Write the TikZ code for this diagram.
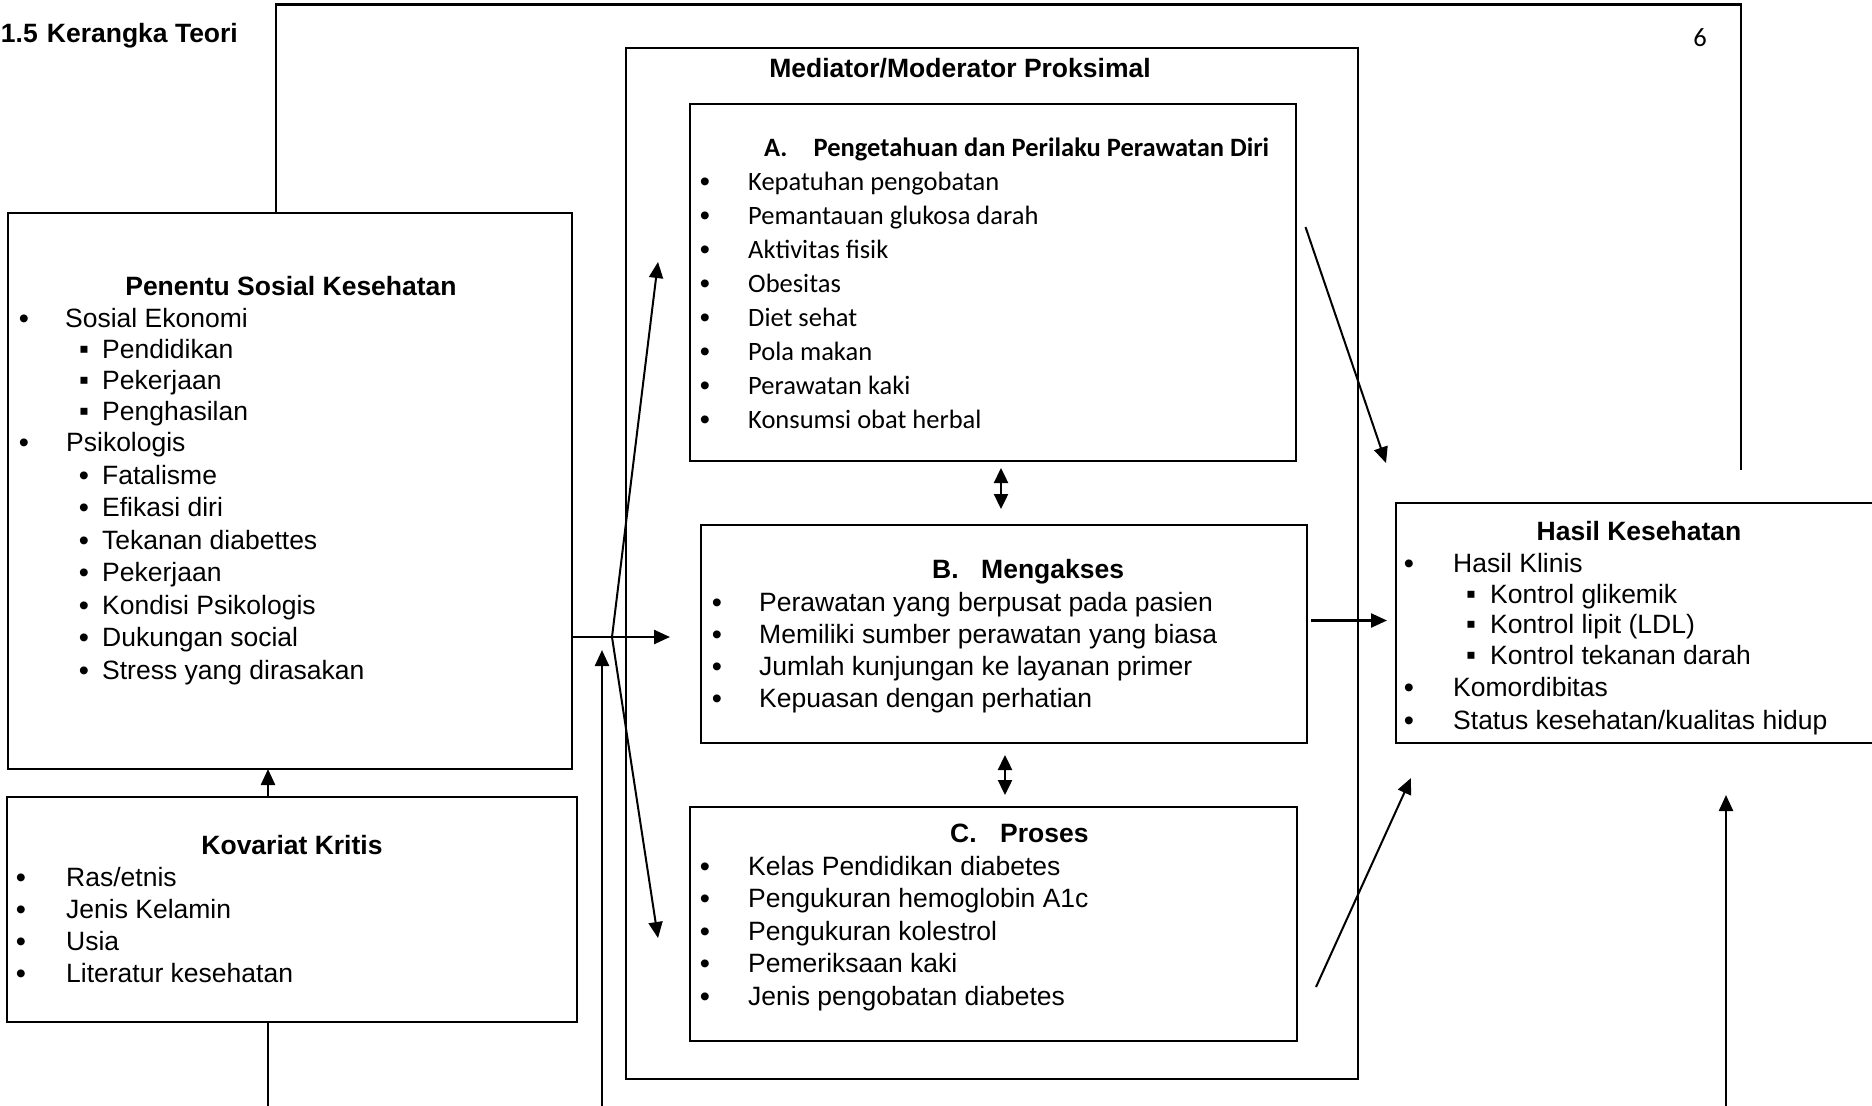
\documentclass[tikz,border=0pt]{standalone}
\usepackage{fontspec}
\setmainfont{Liberation Sans}
\newfontfamily\calibrifont{Carlito}
\usetikzlibrary{arrows.meta}
\begin{document}
\begin{tikzpicture}[x=1pt,y=-1pt,
  box/.style={draw, line width=2.8pt, rectangle, inner sep=0pt, outer sep=0pt},
  conn/.style={line width=2.4pt},
  arr/.style={conn, -{Triangle[length=16pt,width=14pt]}},
  darr/.style={conn, {Triangle[length=15pt,width=14pt]}-{Triangle[length=15pt,width=14pt]}},
  txt/.style={inner sep=0pt, anchor=base west, font=\fontsize{26.5}{32}\selectfont},
  btxt/.style={txt, font=\fontsize{26.5}{32}\selectfont\bfseries},
  ctxt/.style={txt, font=\calibrifont\fontsize{26.5}{32}\selectfont},
  cbtxt/.style={txt, font=\calibrifont\fontsize{26.5}{32}\selectfont\bfseries},
  bul/.style={inner sep=0pt, anchor=base, font=\fontsize{29}{32}\selectfont, yshift=-1pt},
  sq/.style={inner sep=0pt, anchor=base, font=\fontsize{28}{32}\selectfont},
]
\useasboundingbox (0,0) rectangle (1872,1106);
\fill[white] (0,0) rectangle (1872,1106);
\clip (0,0) rectangle (1872,1106);

% boxes
\node[box, minimum width=564pt, minimum height=556pt] (pen) at (290,491) {};
\node[box, minimum width=570pt, minimum height=225pt] (kov) at (292,909.5) {};
\node[box, minimum width=732pt, minimum height=1031pt] (med) at (992,563.5) {};
\node[box, minimum width=606pt, minimum height=357pt] (boxA) at (993,282.5) {};
\node[box, minimum width=606pt, minimum height=218pt] (boxB) at (1004,634) {};
\node[box, minimum width=607pt, minimum height=234pt] (boxC) at (993.5,924) {};
\node[box, minimum width=486pt, minimum height=240pt] (has) at (1639,623) {};

% heading and page number
\node[btxt, anchor=base east] (hnum) at (38,42) {1.5};
\node[btxt] (htitle) at (46.7,42) {Kerangka Teori};
\node[ctxt, anchor=base] (pgno) at (1700,46) {6};

% Penentu Sosial Kesehatan
\node[btxt, anchor=base] (pent) at (291,295) {Penentu Sosial Kesehatan};
\node[bul] (pb1) at (24,327) {•};
\node[txt] (pe1) at (65,327) {Sosial Ekonomi};
\foreach \t [count=\i] in {Pendidikan, Pekerjaan, Penghasilan} {
  \node[sq] (psb\i) at (84,{358+31*(\i-1)}) {▪};
  \node[txt] (ps\i) at (102,{358+31*(\i-1)}) {\t};
}
\node[bul] (pb2) at (24,451) {•};
\node[txt] (pe2) at (66,451) {Psikologis};
\foreach \t [count=\i] in {Fatalisme, Efikasi diri, Tekanan diabettes, Pekerjaan, Kondisi Psikologis, Dukungan social, Stress yang dirasakan} {
  \node[bul] (prb\i) at (84,{484+32.5*(\i-1)}) {•};
  \node[txt] (pr\i) at (102,{484+32.5*(\i-1)}) {\t};
}

% Kovariat Kritis
\node[btxt, anchor=base] (kovt) at (292,854) {Kovariat Kritis};
\foreach \t [count=\i] in {Ras/etnis, Jenis Kelamin, Usia, Literatur kesehatan} {
  \node[bul] (kb\i) at (21,{886+32.3*(\i-1)}) {•};
  \node[txt] (k\i) at (66,{886+32.3*(\i-1)}) {\t};
}

% Mediator
\node[btxt, anchor=base] (medt) at (960,77) {Mediator/Moderator Proksimal};

% A
\node[cbtxt] (at1) at (764,156) {A.};
\node[cbtxt] (at2) at (813.5,156) {Pengetahuan dan Perilaku Perawatan Diri};
\foreach \t [count=\i] in {Kepatuhan pengobatan, Pemantauan glukosa darah, Aktivitas fisik, Obesitas, Diet sehat, Pola makan, Perawatan kaki, Konsumsi obat herbal} {
  \node[bul] (ab\i) at (705,{190+34*(\i-1)}) {•};
  \node[ctxt] (a\i) at (748,{190+34*(\i-1)}) {\t};
}

% B
\node[btxt] (bt1) at (932,578) {B.};
\node[btxt] (bt2) at (981,578) {Mengakses};
\foreach \t [count=\i] in {Perawatan yang berpusat pada pasien, Memiliki sumber perawatan yang biasa, Jumlah kunjungan ke layanan primer, Kepuasan dengan perhatian} {
  \node[bul] (bb\i) at (717,{611+32.3*(\i-1)}) {•};
  \node[txt] (b\i) at (759,{611+32.3*(\i-1)}) {\t};
}

% C
\node[btxt] (ct1) at (950,842) {C.};
\node[btxt] (ct2) at (1000,842) {Proses};
\foreach \t [count=\i] in {Kelas Pendidikan diabetes, Pengukuran hemoglobin A1c, Pengukuran kolestrol, Pemeriksaan kaki, Jenis pengobatan diabetes} {
  \node[bul] (cb\i) at (705,{875+32.5*(\i-1)}) {•};
  \node[txt] (c\i) at (748,{875+32.5*(\i-1)}) {\t};
}

% Hasil Kesehatan
\node[btxt, anchor=base] (hast) at (1639,540) {Hasil Kesehatan};
\node[bul] (hb1) at (1409,572) {•};
\node[txt] (h1) at (1453,572) {Hasil Klinis};
\foreach \t [count=\i] in {Kontrol glikemik, Kontrol lipit (LDL), Kontrol tekanan darah} {
  \node[sq] (hsb\i) at (1471,{603+30.7*(\i-1)}) {▪};
  \node[txt] (hs\i) at (1490,{603+30.7*(\i-1)}) {\t};
}
\node[bul] (hb2) at (1409,696) {•};
\node[txt] (h2) at (1453,696) {Komordibitas};
\node[bul] (hb3) at (1409,729) {•};
\node[txt] (h3) at (1453,729) {Status kesehatan/kualitas hidup};

% connectors
\coordinate (kx) at (268,0);
\coordinate (kbot) at (268,1115);
\draw[arr] (kov.north -| kx) -- (pen.south -| kx);
\draw[conn] (kov.south -| kx) -- (kbot);

\coordinate (fl) at (276,0);
\coordinate (ftr) at (1741,4.5);
\coordinate (fend) at (1741,470);
\draw[conn] (pen.north -| fl) |- (ftr) -- (fend);

\coordinate (pbtip) at (670,637);
\draw[arr] (pen.east |- pbtip) -- (pbtip);

\coordinate (vx) at (612,637);
\coordinate (vup) at (658,262);
\coordinate (vdn) at (658,938);
\draw[arr, line width=2pt] (vx) -- (vup);
\draw[arr, line width=2pt] (vx) -- (vdn);

\coordinate (b2) at (602,1115);
\coordinate (t2) at (602,650);
\draw[arr] (b2) -- (t2);

\coordinate (ab1) at (1001,468);
\coordinate (ab2) at (1001,509);
\draw[darr] (ab1) -- (ab2);
\coordinate (bc1) at (1005,755);
\coordinate (bc2) at (1005,795);
\draw[darr] (bc1) -- (bc2);

\coordinate (ah1) at (1305.5,227);
\coordinate (ah2) at (1386,463);
\draw[arr, line width=2pt] (ah1) -- (ah2);
\coordinate (bh1) at (1311,620.5);
\coordinate (bh2) at (1387,620.5);
\draw[arr] (bh1) -- (bh2);
\coordinate (ch1) at (1316,987);
\coordinate (ch2) at (1411,778);
\draw[arr, line width=2pt] (ch1) -- (ch2);
\coordinate (hb1c) at (1726,1115);
\coordinate (hb2c) at (1726,795);
\draw[arr] (hb1c) -- (hb2c);
\end{tikzpicture}
\end{document}
